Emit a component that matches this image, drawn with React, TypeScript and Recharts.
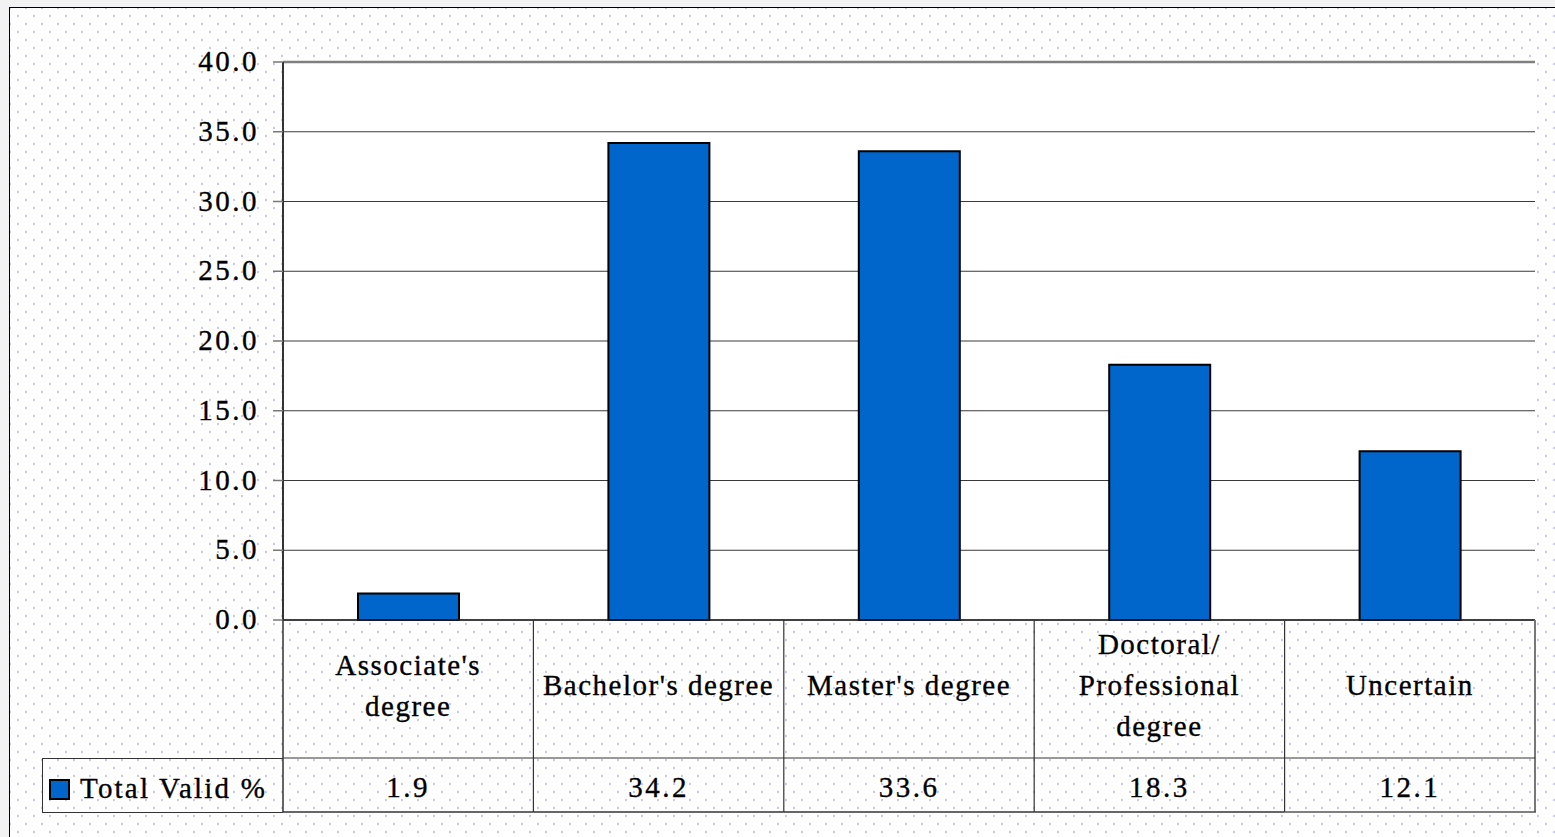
import React from "react";
import {
  BarChart,
  Bar,
  XAxis,
  YAxis,
  CartesianGrid,
  Legend,
  ReferenceLine,
} from "recharts";

const categories = [
  "Associate's degree",
  "Bachelor's degree",
  "Master's degree",
  "Doctoral/ Professional degree",
  "Uncertain",
];
const categoryLines = [
  ["Associate's", "degree"],
  ["Bachelor's degree"],
  ["Master's degree"],
  ["Doctoral/", "Professional", "degree"],
  ["Uncertain"],
];
const totalValid = [1.9, 34.2, 33.6, 18.3, 12.1];
const yTicks = [0, 5, 10, 15, 20, 25, 30, 35, 40];
const seriesName = "Total Valid %";

const data = categories.map((name, i) => ({ name, value: totalValid[i] }));

const FONT = "'Liberation Serif', 'Times New Roman', serif";
const CHART_W = 1555;
const CHART_H = 837;
const PLOT_LEFT = 283;
const PLOT_RIGHT = 1535;
const HALF = (PLOT_RIGHT - PLOT_LEFT) / categories.length / 2;
const HEADER_H = 138;
const TABLE_H = 192;
const BLUE = "#0066CC";
const TEXT_STROKE = 0.35;

const CatTick = (props: any) => {
  const { x, y, payload } = props;
  const idx = payload.index;
  const lines = categoryLines[idx] || [payload.value];
  const n = lines.length;
  const last = idx === categories.length - 1;
  return (
    <g>
      {idx === 0 && (
        <line x1={x - HALF} y1={y} x2={x - HALF} y2={y + TABLE_H} stroke="#333" strokeWidth={1.5} />
      )}
      <line
        x1={x + HALF}
        y1={y}
        x2={x + HALF}
        y2={y + TABLE_H}
        stroke={last ? "#777" : "#333"}
        strokeWidth={last ? 2 : 1.2}
      />
      <line x1={x - HALF} y1={y + HEADER_H} x2={x + HALF} y2={y + HEADER_H} stroke="#333" strokeWidth={1.2} />
      <line x1={x - HALF} y1={y + TABLE_H} x2={x + HALF + (last ? 1 : 0)} y2={y + TABLE_H} stroke={last ? "#555" : "#333"} strokeWidth={1.5} />
      {lines.map((ln: string, i: number) => (
        <text
          key={i}
          x={x}
          y={y + 75 + (i - (n - 1) / 2) * 41}
          textAnchor="middle"
          style={{ fontFamily: FONT }}
          fontSize={29}
          letterSpacing={1.5}
          fill="#000"
          stroke="#000"
          strokeWidth={TEXT_STROKE}
        >
          {ln}
        </text>
      ))}
      <text
        x={x}
        y={y + 177}
        textAnchor="middle"
        style={{ fontFamily: FONT }}
        fontSize={29}
        letterSpacing={2.5}
        fill="#000"
        stroke="#000"
        strokeWidth={TEXT_STROKE}
      >
        {totalValid[idx].toFixed(1)}
      </text>
    </g>
  );
};

const YTick = (props: any) => {
  const { x, y, payload } = props;
  return (
    <text
      x={x - 12}
      y={y}
      dy={9}
      textAnchor="end"
      style={{ fontFamily: FONT }}
      fontSize={29}
      letterSpacing={2.5}
      fill="#000"
      stroke="#000"
      strokeWidth={TEXT_STROKE}
    >
      {Number(payload.value).toFixed(1)}
    </text>
  );
};

const renderLegend = (props: any) => {
  const { payload } = props;
  const item = payload && payload[0];
  return (
    <div
      style={{
        boxSizing: "border-box",
        width: 241,
        height: 55,
        borderTop: "1.5px solid #333",
        borderBottom: "1.5px solid #333",
        borderLeft: "1.5px solid #333",
        display: "flex",
        alignItems: "center",
        paddingLeft: 6,
        paddingTop: 6,
        fontFamily: FONT,
        fontSize: 29,
        letterSpacing: 2.2,
        color: "#000",
        lineHeight: "normal",
        WebkitTextStroke: "0.35px #000",
      }}
    >
      <span
        style={{
          display: "inline-block",
          boxSizing: "border-box",
          width: 21,
          height: 21,
          background: item ? item.color : BLUE,
          border: "2px solid #000",
          marginRight: 10,
          marginTop: 2,
        }}
      />
      <span>{item ? item.value : seriesName}</span>
    </div>
  );
};

export default function App() {
  return (
    <div
      style={{
        position: "absolute",
        left: 0,
        top: 0,
        width: CHART_W,
        height: CHART_H,
        background: "#f2f2f2",
        overflow: "hidden",
        fontFamily: FONT,
      }}
    >
      <div
        style={{
          position: "absolute",
          left: 9,
          top: 7,
          width: 1560,
          height: 840,
          border: "1.5px solid #000",
          backgroundColor: "#fff",
          backgroundImage:
            "radial-gradient(circle, #c8c8f2 0.9px, transparent 1.4px), radial-gradient(circle, #c8c8f2 0.9px, transparent 1.4px)",
          backgroundSize: "16px 16px",
          backgroundPosition: "0px 0px, 8px 8px",
        }}
      />
      <div style={{ position: "absolute", left: 0, top: 0 }}>
        <BarChart
          width={CHART_W}
          height={CHART_H}
          data={data}
          margin={{ top: 62, right: CHART_W - PLOT_RIGHT, left: PLOT_LEFT - 100, bottom: 0 }}
          barSize={101}
        >
          <CartesianGrid vertical={false} stroke="#3a3a3a" strokeWidth={1} fill="#fff" fillOpacity={1} />
          <XAxis
            dataKey="name"
            height={CHART_H - 620}
            interval={0}
            axisLine={{ stroke: "#222", strokeWidth: 1.5 }}
            tickLine={false}
            tickSize={0}
            tickMargin={0}
            tick={<CatTick />}
          />
          <YAxis
            width={100}
            domain={[0, 40]}
            ticks={yTicks}
            interval={0}
            axisLine={{ stroke: "#333", strokeWidth: 2 }}
            tickLine={{ stroke: "#777", strokeWidth: 1.5 }}
            tickSize={10}
            tick={<YTick />}
          />
          <YAxis
            yAxisId="right"
            orientation="right"
            width={0}
            domain={[0, 40]}
            axisLine={{ stroke: "#808080", strokeWidth: 2.5 }}
            tick={false}
            tickLine={false}
          />
          <ReferenceLine y={40} stroke="#808080" strokeWidth={2.5} ifOverflow="visible" />
          <Legend
            layout="horizontal"
            verticalAlign="middle"
            align="center"
            wrapperStyle={{ left: 42, top: 758, width: 241, height: 55 }}
            content={renderLegend}
          />
          <Bar
            dataKey="value"
            name={seriesName}
            fill={BLUE}
            stroke="#000"
            strokeWidth={2}
            isAnimationActive={false}
          />
        </BarChart>
      </div>
    </div>
  );
}
